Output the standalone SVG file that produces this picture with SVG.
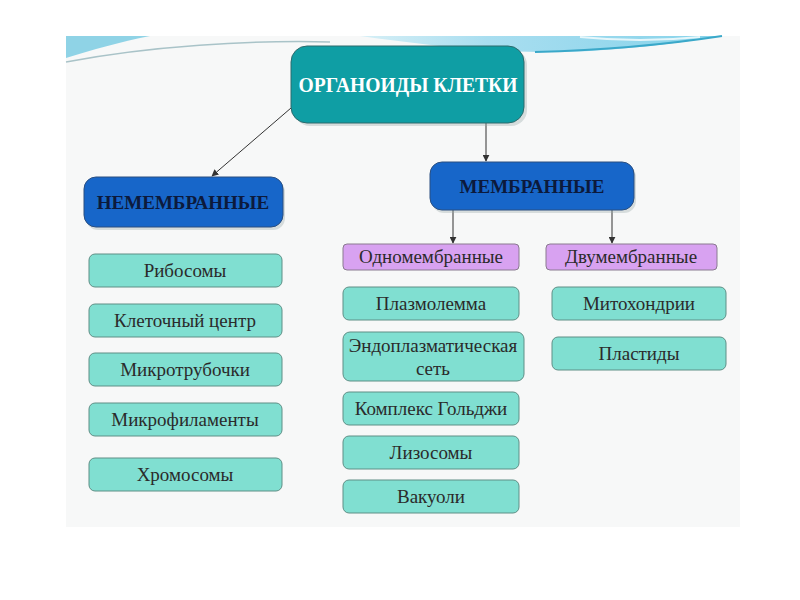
<svg xmlns="http://www.w3.org/2000/svg" width="800" height="600" viewBox="0 0 800 600">
<defs>
<linearGradient id="wave" x1="0" y1="0" x2="1" y2="0">
<stop offset="0" stop-color="#d6eff6"/>
<stop offset="0.35" stop-color="#a9def0"/>
<stop offset="1" stop-color="#86d3ea"/>
</linearGradient>
<marker id="arr" viewBox="0 0 10 10" refX="9" refY="5" markerWidth="7" markerHeight="7" orient="auto" markerUnits="userSpaceOnUse">
<path d="M0,0 L10,5 L0,10 Z" fill="#333"/>
</marker>
<style>
.teal{fill:#80dfd1;stroke:#5f8f86;stroke-width:1}
.violet{fill:#d8a2f1;stroke:#8a7a90;stroke-width:1}
.blue{fill:#1766c9;stroke:#2b4f80;stroke-width:1}
.root{fill:#0f9ea4;stroke:#2d6a6c;stroke-width:1}
.shadow{fill:#9aa;opacity:0.35}
.lbl{font-family:"Liberation Serif","Times New Roman",serif;font-size:19px;fill:#2b2b2b;text-anchor:middle}
.hdr{font-family:"Liberation Serif","Times New Roman",serif;font-size:19px;font-weight:bold;fill:#0c1a3c;text-anchor:middle}
.ttl{font-family:"Liberation Serif","Times New Roman",serif;font-size:21px;font-weight:bold;fill:#ffffff;text-anchor:middle}
.conn{stroke:#333;stroke-width:1;fill:none}
</style>
</defs>
<rect x="0" y="0" width="800" height="600" fill="#ffffff"/>
<rect x="66" y="36" width="674" height="491" fill="#f7f8f8"/>
<!-- top wave -->
<path d="M66,36 L150,36 C120,42 92,50 66,58 Z" fill="#8fd3e6"/>
<path d="M66,62 C150,46 250,40 330,42" stroke="#a9c3c8" stroke-width="1.5" fill="none"/>
<path d="M360,36 L722,36 C660,46 600,52 550,52 C480,52 420,44 360,36 Z" fill="url(#wave)"/>
<path d="M535,52 C610,50 670,44 722,36" stroke="#3aa8c9" stroke-width="2" fill="none"/>
<path d="M580,37 C620,41 660,41 700,37" stroke="#e6f6fa" stroke-width="2" fill="none"/>

<g id="connectors">
<line class="conn" x1="291" y1="108" x2="212" y2="176" marker-end="url(#arr)"/>
<line class="conn" x1="486" y1="123" x2="486" y2="161" marker-end="url(#arr)"/>
<line class="conn" x1="453" y1="210" x2="453" y2="243" marker-end="url(#arr)"/>
<line class="conn" x1="612" y1="210" x2="612" y2="243" marker-end="url(#arr)"/>
</g>

<g id="root">
<rect class="shadow" x="294" y="49" width="233" height="77" rx="16"/>
<rect class="root" x="291" y="46" width="233" height="77" rx="16"/>
<text class="ttl" x="408" y="92" textLength="219" lengthAdjust="spacingAndGlyphs">ОРГАНОИДЫ КЛЕТКИ</text>
</g>

<g id="nonmembrane">
<rect class="shadow" x="86" y="180" width="199" height="50" rx="12"/>
<rect class="blue" x="84" y="177" width="199" height="50" rx="12"/>
<text class="hdr" x="183" y="209">НЕМЕМБРАННЫЕ</text>
</g>

<g id="membrane">
<rect class="shadow" x="432" y="165" width="204" height="48" rx="12"/>
<rect class="blue" x="430" y="162" width="204" height="48" rx="12"/>
<text class="hdr" x="532" y="193">МЕМБРАННЫЕ</text>
</g>

<g id="single">
<rect class="violet" x="343" y="244" width="176" height="26" rx="4"/>
<text class="lbl" x="431" y="263">Одномембранные</text>
</g>
<g id="double">
<rect class="violet" x="546" y="244" width="171" height="26" rx="4"/>
<text class="lbl" x="631" y="263">Двумембранные</text>
</g>

<g id="ribosomes">
<rect class="teal" x="89" y="254" width="193" height="33" rx="6"/>
<text class="lbl" x="185" y="277">Рибосомы</text>
</g>
<g id="centrosome">
<rect class="teal" x="89" y="304" width="193" height="33" rx="6"/>
<text class="lbl" x="185" y="327">Клеточный центр</text>
</g>
<g id="microtubules">
<rect class="teal" x="89" y="353" width="193" height="33" rx="6"/>
<text class="lbl" x="185" y="376">Микротрубочки</text>
</g>
<g id="microfilaments">
<rect class="teal" x="89" y="403" width="193" height="33" rx="6"/>
<text class="lbl" x="185" y="426">Микрофиламенты</text>
</g>
<g id="chromosomes">
<rect class="teal" x="89" y="458" width="193" height="33" rx="6"/>
<text class="lbl" x="185" y="481">Хромосомы</text>
</g>

<g id="plasmalemma">
<rect class="teal" x="343" y="287" width="176" height="33" rx="6"/>
<text class="lbl" x="431" y="310">Плазмолемма</text>
</g>
<g id="er">
<rect class="teal" x="343" y="332" width="181" height="49" rx="7"/>
<text class="lbl" x="433" y="352">Эндоплазматическая</text>
<text class="lbl" x="433" y="375">сеть</text>
</g>
<g id="golgi">
<rect class="teal" x="343" y="392" width="176" height="33" rx="6"/>
<text class="lbl" x="431" y="415">Комплекс Гольджи</text>
</g>
<g id="lysosomes">
<rect class="teal" x="343" y="436" width="176" height="33" rx="6"/>
<text class="lbl" x="431" y="459">Лизосомы</text>
</g>
<g id="vacuoles">
<rect class="teal" x="343" y="480" width="176" height="33" rx="6"/>
<text class="lbl" x="431" y="503">Вакуоли</text>
</g>

<g id="mitochondria">
<rect class="teal" x="552" y="287" width="174" height="33" rx="6"/>
<text class="lbl" x="639" y="310">Митохондрии</text>
</g>
<g id="plastids">
<rect class="teal" x="552" y="337" width="174" height="33" rx="6"/>
<text class="lbl" x="639" y="360">Пластиды</text>
</g>
</svg>
